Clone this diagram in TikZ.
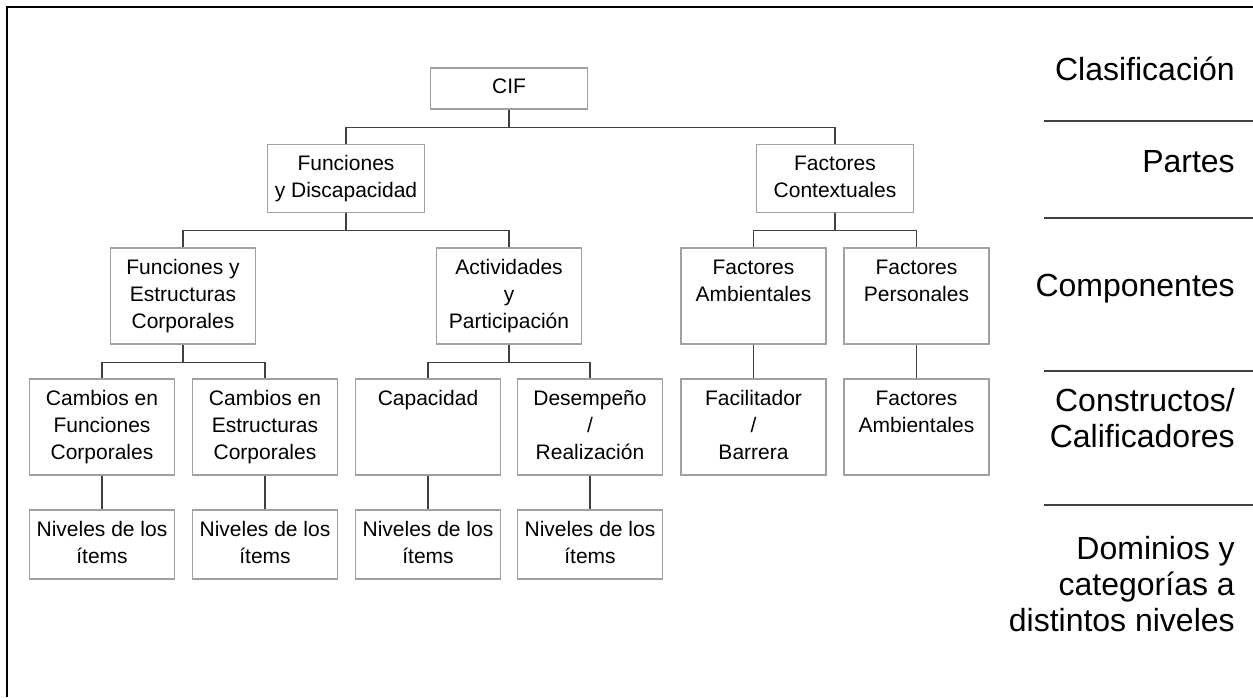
\documentclass[tikz,border=0pt]{standalone}
\usepackage{fontspec}
\setmainfont{Liberation Sans}
\definecolor{boxgray}{HTML}{A0A0A0}
\definecolor{linegray}{HTML}{404040}
\begin{document}
\begin{tikzpicture}[x=0.75pt,y=-0.75pt,
  box/.style={draw=boxgray, line width=0.8pt, fill=white, inner sep=0pt, align=center,
    font=\fontsize{15.75}{20.25}\selectfont},
  wbig/.style={box, minimum width=118pt, minimum height=51pt},
  wcif/.style={box, minimum width=118pt, minimum height=30.75pt},
  wmid/.style={box, minimum width=108.75pt, minimum height=72pt},
  wlow/.style={box, minimum width=108.75pt, minimum height=51.75pt},
  conn/.style={draw=linegray, line width=0.8pt},
  rlabel/.style={anchor=east, inner sep=0pt, align=right, font=\fontsize{24}{27}\selectfont},
  divider/.style={draw=linegray, line width=0.8pt}
]
\useasboundingbox (0,0) rectangle (1253,697);
% frame
\draw[line width=1.6pt] (7,697) -- (7,7) -- (1253,7);

% level 1
\node[wcif] (cif) at (509,88.5) {\strut CIF};
% level 2
\node[wbig] (fyd) at (346,178.5) {\strut Funciones\\\strut y Discapacidad};
\node[wbig] (fc) at (835,178.5) {\strut Factores\\\strut Contextuales};
% level 3
\node[wmid] (fec) at (183,296) {\strut Funciones y\\\strut Estructuras\\\strut Corporales};
\node[wmid] (ayp) at (509,296) {\strut Actividades\\\strut y\\\strut Participación};
\node[wmid] (fa) at (753.5,296) {\strut Factores\\\strut Ambientales\\\strut};
\node[wmid] (fp) at (916.5,296) {\strut Factores\\\strut Personales\\\strut};
% level 4
\node[wmid] (cfc) at (102,427) {\strut Cambios en\\\strut Funciones\\\strut Corporales};
\node[wmid] (cec) at (265,427) {\strut Cambios en\\\strut Estructuras\\\strut Corporales};
\node[wmid] (cap) at (428,427) {\strut Capacidad\\\strut\\\strut};
\node[wmid] (des) at (590,427) {\strut Desempeño\\\strut /\\\strut Realización};
\node[wmid] (fab) at (753.5,427) {\strut Facilitador\\\strut /\\\strut Barrera};
\node[wmid] (fam) at (916.5,427) {\strut Factores\\\strut Ambientales\\\strut};
% level 5
\node[wlow] (n1) at (102,544.5) {\strut Niveles de los\\\strut ítems};
\node[wlow] (n2) at (265,544.5) {\strut Niveles de los\\\strut ítems};
\node[wlow] (n3) at (428,544.5) {\strut Niveles de los\\\strut ítems};
\node[wlow] (n4) at (590,544.5) {\strut Niveles de los\\\strut ítems};

% connectors
\draw[conn] (cif.south) -- ++(0,18) -| (fyd.north);
\draw[conn] (cif.south) -- ++(0,18) -| (fc.north);
\draw[conn] (fyd.south) -- ++(0,17.5) -| (fec.north);
\draw[conn] (fyd.south) -- ++(0,17.5) -| (ayp.north);
\draw[conn] (fc.south) -- ++(0,17.5) -| (fa.north);
\draw[conn] (fc.south) -- ++(0,17.5) -| (fp.north);
\draw[conn] (fec.south) -- ++(0,17.5) -| (cfc.north);
\draw[conn] (fec.south) -- ++(0,17.5) -| (cec.north);
\draw[conn] (ayp.south) -- ++(0,17.5) -| (cap.north);
\draw[conn] (ayp.south) -- ++(0,17.5) -| (des.north);
\draw[conn] (fa.south) -- (fab.north);
\draw[conn] (fp.south) -- (fam.north);
\draw[conn] (cfc.south) -- (n1.north);
\draw[conn] (cec.south) -- (n2.north);
\draw[conn] (cap.south) -- (n3.north);
\draw[conn] (des.south) -- (n4.north);

% right-hand labels
\node[rlabel] (lcla) at (1235,69) {Clasificación};
\node[rlabel] (lpar) at (1235,162) {Partes};
\node[rlabel] (lcom) at (1235,289) {Componentes};
\node[rlabel] (lcon) at (1235,418) {Constructos/\\Calificadores};
\node[rlabel] (ldom) at (1235,584) {Dominios y\\categorías a\\distintos niveles};
\draw[divider] (1044,121) -- (1253,121);
\draw[divider] (1044,218) -- (1253,218);
\draw[divider] (1044,371) -- (1253,371);
\draw[divider] (1044,505) -- (1253,505);
\end{tikzpicture}
\end{document}
